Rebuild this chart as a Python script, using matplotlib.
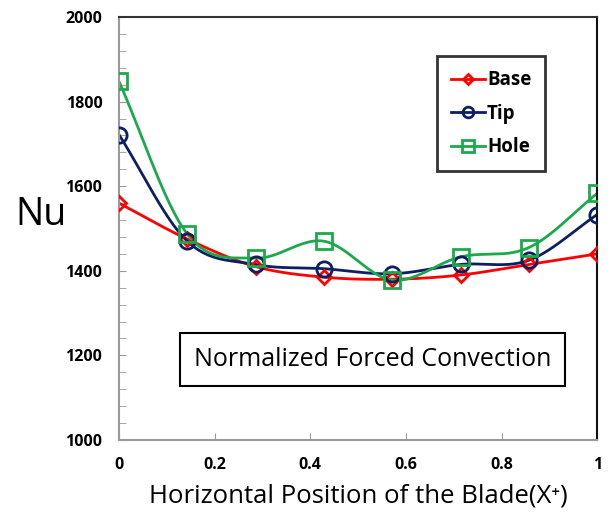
import numpy as np
import matplotlib
matplotlib.use("Agg")
import matplotlib.pyplot as plt
from matplotlib.ticker import MultipleLocator

x_pos = [0, 1/7, 2/7, 3/7, 4/7, 5/7, 6/7, 1]
base = [1560, 1475, 1410, 1385, 1380, 1390, 1415, 1440]
tip = [1722, 1470, 1415, 1405, 1393, 1415, 1425, 1533]
hole = [1848, 1487, 1430, 1470, 1378, 1433, 1455, 1583]
series_names = ["Base", "Tip", "Hole"]
x_ticks = [0, 0.2, 0.4, 0.6, 0.8, 1]
x_tick_labels = ["0", "0.2", "0.4", "0.6", "0.8", "1"]
y_ticks = [1000, 1200, 1400, 1600, 1800, 2000]


def smooth(xs, ys, n=30):
    xs = np.asarray(xs, float)
    ys = np.asarray(ys, float)
    px = np.concatenate([[2 * xs[0] - xs[1]], xs, [2 * xs[-1] - xs[-2]]])
    py = np.concatenate([[2 * ys[0] - ys[1]], ys, [2 * ys[-1] - ys[-2]]])
    ox, oy = [], []
    for i in range(1, len(px) - 2):
        t = np.linspace(0, 1, n, endpoint=False)
        for P, out in ((px, ox), (py, oy)):
            p0, p1, p2, p3 = P[i - 1], P[i], P[i + 1], P[i + 2]
            c1 = p1 + (p2 - p0) / 6
            c2 = p2 - (p3 - p1) / 6
            out.extend((1 - t) ** 3 * p1 + 3 * (1 - t) ** 2 * t * c1 + 3 * (1 - t) * t ** 2 * c2 + t ** 3 * p2)
    ox.append(xs[-1]); oy.append(ys[-1])
    return np.array(ox), np.array(oy)


fig = plt.figure(figsize=(6.1, 5.17), dpi=100)
ax = fig.add_axes([0.195, 0.149, 0.784, 0.818])

styles = [
    dict(color="#FF0000", marker="D", ms=7.5),
    dict(color="#0D1F63", marker="o", ms=11),
    dict(color="#1BAA4B", marker="s", ms=12),
]
handles = []
for name, ys, st in zip(series_names, [base, tip, hole], styles):
    sx, sy = smooth(x_pos, ys)
    ax.plot(sx, sy, color=st["color"], lw=2, zorder=2)
    ax.plot(x_pos, ys, linestyle="none", marker=st["marker"], ms=st["ms"],
            mfc="none", mec=st["color"], mew=2, zorder=3)
    h, = ax.plot([], [], color=st["color"], lw=2, marker=st["marker"],
                 ms=st["ms"] * 0.7, mfc="none", mec=st["color"], mew=2, label=name)
    handles.append(h)

ax.set_xlim(0, 1)
ax.set_ylim(1000, 2000)
ax.set_xticks(x_ticks)
ax.set_xticklabels(x_tick_labels)
ax.set_yticks(y_ticks)
ax.yaxis.set_minor_locator(MultipleLocator(40))
ax.tick_params(axis="both", which="both", direction="in", colors="#999999", length=5)
ax.tick_params(axis="both", labelcolor="black", labelsize=11.5)
ax.tick_params(axis="x", pad=12)
ax.tick_params(axis="y", pad=12)
for lab in ax.get_xticklabels() + ax.get_yticklabels():
    lab.set_fontweight("bold")
    lab.set_family("Open Sans")

ax.spines["left"].set_color("#999999")
ax.spines["bottom"].set_color("#999999")
ax.spines["top"].set_color("#333333")
ax.spines["right"].set_color("#111111")
for s in ax.spines.values():
    s.set_linewidth(1.5)

ax.set_xlabel("Horizontal Position of the Blade(X\u207a)", fontsize=18.5,
              family=["Open Sans", "DejaVu Sans"], labelpad=8)
fig.text(0.025, 0.585, "Nu", fontsize=27, family="Open Sans", va="center", ha="left")

leg = ax.legend(handles=handles, loc="upper left", bbox_to_anchor=(0.646, 0.93),
                frameon=True, fancybox=False, edgecolor="black", handlelength=1.8,
                handletextpad=0.1, labelspacing=0.72, borderpad=0.75,
                prop=dict(family="Open Sans", weight="bold", size=13.5))
leg.get_frame().set_linewidth(2)

ax.text(0.53, 0.19, "Normalized Forced Convection", transform=ax.transAxes,
        fontsize=18, family="Open Sans", ha="center", va="center",
        bbox=dict(boxstyle="square,pad=0.55", fc="white", ec="black", lw=1.5))

fig.savefig("out.png", dpi=100)
